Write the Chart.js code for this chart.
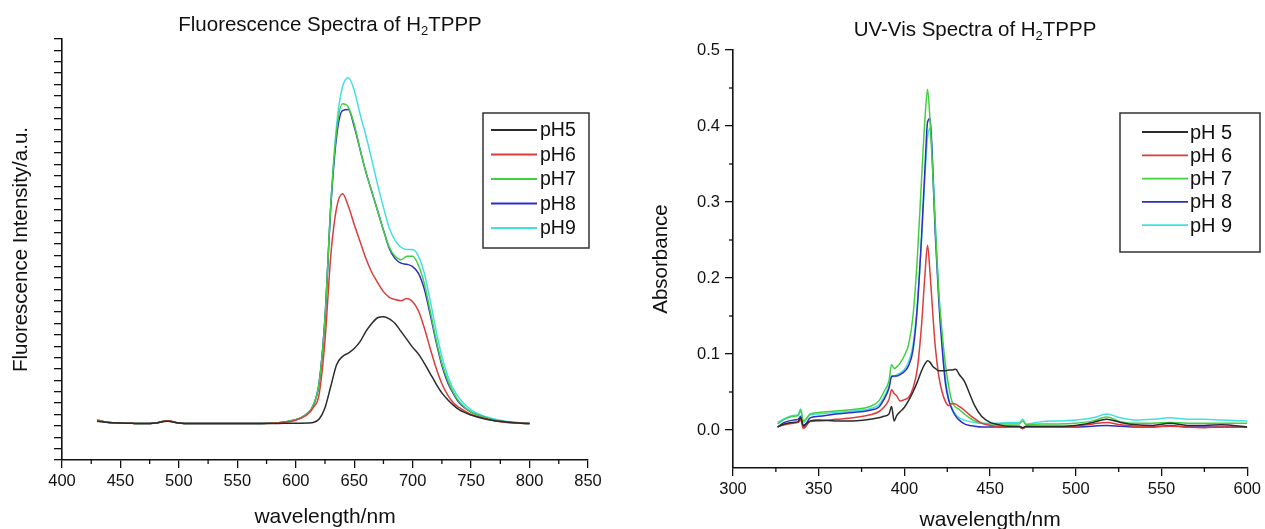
<!DOCTYPE html>
<html>
<head>
<meta charset="utf-8">
<script src="https://cdn.jsdelivr.net/npm/chart.js@4"></script>
<style>
  html, body { margin: 0; padding: 0; background: #fff; overflow: hidden; }
  .box { position: absolute; top: 0; height: 529px; }
</style>
</head>
<body>
<div class="box" style="left:0;width:620px"><canvas id="fluo"></canvas></div>
<div class="box" style="left:640px;width:625px"><canvas id="uv"></canvas></div>
<script>
// ---- fluorescence (left panel), intensity in arbitrary units ----
const fluoWavelength = [430, 440, 450, 460, 470, 480, 490, 500, 510, 520, 540, 560, 580, 590, 600, 605, 610, 615, 620, 625,
  630, 635, 640, 645, 650, 655, 660, 665, 670, 675, 680, 685, 690, 695, 700, 705, 710, 715, 720, 725,
  730, 735, 740, 750, 760, 770, 780, 790, 800];
const fluoPH5 = [3.4, 3.3, 3.25, 3.22, 3.2, 3.25, 3.4, 3.25, 3.2, 3.2, 3.2, 3.2, 3.2, 3.22, 3.22, 3.23, 3.25, 3.3, 3.6, 4.6,
  6.5, 8.4, 9.1, 9.4, 9.8, 10.4, 11.3, 12.0, 12.5, 12.6, 12.4, 12.0, 11.3, 10.6, 9.9, 9.3, 8.5, 7.6, 6.7, 5.9,
  5.3, 4.8, 4.4, 3.95, 3.65, 3.45, 3.35, 3.25, 3.2];
const fluoPH6 = [3.45, 3.3, 3.25, 3.22, 3.2, 3.25, 3.45, 3.25, 3.2, 3.2, 3.2, 3.2, 3.22, 3.3, 3.5, 3.7, 4.0, 4.6, 5.8, 10.5,
  18.0, 22.2, 23.4, 22.3, 20.7, 19.2, 17.7, 16.5, 15.6, 14.8, 14.3, 14.1, 14.0, 14.2, 13.9, 13.1, 11.6, 9.8, 8.1, 6.7,
  5.7, 5.0, 4.6, 4.0, 3.7, 3.45, 3.3, 3.25, 3.2];
const fluoPH7 = [3.5, 3.3, 3.25, 3.22, 3.2, 3.25, 3.45, 3.25, 3.2, 3.2, 3.2, 3.2, 3.25, 3.35, 3.55, 3.75, 4.1, 4.8, 6.8, 12.5,
  22.5, 29.0, 31.3, 31.0, 29.5, 27.3, 25.3, 23.6, 21.9, 20.2, 18.7, 17.9, 17.6, 17.9, 17.9, 17.1, 15.5, 13.1, 10.6, 8.5,
  7.0, 5.9, 5.1, 4.2, 3.8, 3.5, 3.35, 3.25, 3.2];
const fluoPH8 = [3.5, 3.3, 3.25, 3.22, 3.2, 3.25, 3.45, 3.25, 3.2, 3.2, 3.2, 3.2, 3.25, 3.35, 3.55, 3.75, 4.1, 4.8, 6.8, 12.5,
  22.3, 28.5, 30.7, 30.8, 29.3, 27.3, 25.3, 23.6, 21.9, 20.2, 18.6, 17.7, 17.3, 17.2, 17.0, 16.4, 15.0, 12.8, 10.4, 8.3,
  6.8, 5.8, 5.0, 4.2, 3.8, 3.5, 3.35, 3.25, 3.2];
const fluoPH9 = [3.55, 3.3, 3.25, 3.22, 3.2, 3.25, 3.45, 3.25, 3.2, 3.2, 3.2, 3.2, 3.25, 3.35, 3.55, 3.75, 4.1, 4.8, 6.8, 12.5,
  22.5, 29.5, 32.8, 33.6, 32.5, 30.4, 28.5, 26.4, 24.2, 22.2, 20.4, 19.3, 18.7, 18.5, 18.5, 17.9, 16.4, 14.0, 11.4, 9.1,
  7.4, 6.2, 5.4, 4.4, 3.9, 3.6, 3.4, 3.3, 3.2];
const fluoLabels = ['pH5', 'pH6', 'pH7', 'pH8', 'pH9'];
const fluoTicksX = [400, 450, 500, 550, 600, 650, 700, 750, 800, 850];
const fluoTicksY = Array.from({ length: 38 }, (_, i) => i); // unlabeled marks

// ---- UV-Vis (right panel), absorbance ----
const uvWavelength = [326, 330, 335, 338, 339.5, 341, 345, 350, 360, 370, 380, 385, 388, 391, 392.5, 394, 395.5, 397.5, 400, 402.5,
  405, 407.5, 410, 412, 413.5, 415, 416.5, 418, 420, 422, 424, 426, 428, 430, 432, 435, 438, 441, 445, 450,
  455, 460, 467, 469, 471, 480, 490, 500, 510, 518, 526, 535, 545, 555, 565, 575, 585, 600];
const uvPH5 = [0.004, 0.008, 0.010, 0.011, 0.016, 0.006, 0.012, 0.013, 0.012, 0.012, 0.014, 0.016, 0.018, 0.021, 0.031, 0.012, 0.019, 0.024, 0.030, 0.039,
  0.050, 0.063, 0.078, 0.087, 0.091, 0.089, 0.084, 0.081, 0.078, 0.078, 0.078, 0.079, 0.079, 0.080, 0.073, 0.064, 0.048, 0.032, 0.018, 0.010,
  0.007, 0.005, 0.005, 0.003, 0.005, 0.005, 0.005, 0.006, 0.010, 0.014, 0.010, 0.007, 0.006, 0.009, 0.006, 0.006, 0.007, 0.004];
const uvPH6 = [0.004, 0.007, 0.009, 0.010, 0.013, 0.002, 0.011, 0.012, 0.014, 0.016, 0.020, 0.024, 0.030, 0.040, 0.053, 0.048, 0.045, 0.038, 0.040, 0.043,
  0.055, 0.080, 0.138, 0.205, 0.243, 0.205, 0.155, 0.110, 0.072, 0.050, 0.037, 0.032, 0.035, 0.034, 0.031, 0.026, 0.020, 0.015, 0.009, 0.006,
  0.005, 0.005, 0.004, 0.002, 0.004, 0.004, 0.004, 0.005, 0.008, 0.010, 0.007, 0.005, 0.004, 0.005, 0.004, 0.003, 0.004, 0.004];
const uvPH7 = [0.008, 0.014, 0.018, 0.019, 0.026, 0.012, 0.021, 0.023, 0.025, 0.027, 0.031, 0.038, 0.050, 0.065, 0.086, 0.081, 0.083, 0.088, 0.098, 0.113,
  0.150, 0.225, 0.330, 0.410, 0.448, 0.405, 0.340, 0.268, 0.182, 0.128, 0.085, 0.055, 0.036, 0.030, 0.027, 0.021, 0.016, 0.012, 0.009, 0.008,
  0.008, 0.008, 0.008, 0.012, 0.007, 0.008, 0.008, 0.009, 0.012, 0.017, 0.011, 0.009, 0.009, 0.010, 0.009, 0.009, 0.009, 0.009];
const uvPH8 = [0.004, 0.010, 0.013, 0.014, 0.018, 0.004, 0.016, 0.018, 0.021, 0.023, 0.026, 0.030, 0.040, 0.055, 0.070, 0.071, 0.071, 0.073, 0.077, 0.085,
  0.105, 0.160, 0.255, 0.345, 0.405, 0.410, 0.345, 0.258, 0.172, 0.108, 0.060, 0.038, 0.026, 0.018, 0.013, 0.008, 0.006, 0.005, 0.004, 0.004,
  0.004, 0.004, 0.004, 0.002, 0.004, 0.004, 0.004, 0.004, 0.005, 0.006, 0.005, 0.004, 0.004, 0.006, 0.004, 0.004, 0.004, 0.004];
const uvPH9 = [0.010, 0.015, 0.019, 0.020, 0.028, 0.010, 0.020, 0.021, 0.023, 0.025, 0.028, 0.033, 0.043, 0.058, 0.072, 0.070, 0.073, 0.075, 0.080, 0.090,
  0.112, 0.165, 0.250, 0.335, 0.385, 0.397, 0.350, 0.272, 0.185, 0.118, 0.068, 0.040, 0.028, 0.020, 0.016, 0.013, 0.011, 0.010, 0.009, 0.009,
  0.009, 0.010, 0.010, 0.014, 0.008, 0.011, 0.012, 0.013, 0.016, 0.021, 0.016, 0.013, 0.014, 0.016, 0.014, 0.014, 0.013, 0.012];
const uvLabels = ['pH 5', 'pH 6', 'pH 7', 'pH 8', 'pH 9'];
const uvTicksX = [300, 350, 400, 450, 500, 550, 600];
const uvTicksY = [0.0, 0.1, 0.2, 0.3, 0.4, 0.5];

const seriesColors = ['#2b2b2b', '#dc3c3c', '#42d042', '#2e2ec6', '#44e0e0'];
const FONT = '"Liberation Sans", Arial, sans-serif';
const INK = '#111';

// midpoints between major ticks, used for the short minor marks
const between = arr => arr.slice(1).map((v, i) => (v + arr[i]) / 2);

// title with a subscript "2" in H2TPPP
const subTitle = {
  id: 'subTitle',
  afterDraw(chart, args, o) {
    const ctx = chart.ctx;
    ctx.save();
    ctx.fillStyle = INK;
    ctx.textBaseline = 'middle';
    ctx.textAlign = 'left';
    const big = o.size + 'px ' + FONT;
    const small = o.subSize + 'px ' + FONT;
    ctx.font = big;
    const w1 = ctx.measureText(o.before).width;
    const w3 = ctx.measureText(o.after).width;
    ctx.font = small;
    const w2 = ctx.measureText(o.sub).width;
    let x = o.x - (w1 + w2 + w3) / 2;
    ctx.font = big; ctx.fillText(o.before, x, o.y); x += w1;
    ctx.font = small; ctx.fillText(o.sub, x, o.y + o.subShift); x += w2;
    ctx.font = big; ctx.fillText(o.after, x, o.y);
    ctx.restore();
  }
};

const minorTicks = {
  id: 'minorTicks',
  afterDraw(chart, args, o) {
    const ctx = chart.ctx;
    ctx.save();
    ctx.strokeStyle = INK;
    ctx.lineWidth = 1.3;
    (o.axes || []).forEach(a => {
      const s = chart.scales[a.id];
      a.values.forEach(v => {
        const p = s.getPixelForValue(v);
        ctx.beginPath();
        if (s.isHorizontal()) { ctx.moveTo(p, s.top); ctx.lineTo(p, s.top + a.len); }
        else { ctx.moveTo(s.right, p); ctx.lineTo(s.right - a.len, p); }
        ctx.stroke();
      });
    });
    ctx.restore();
  }
};

// framed legend inside the plot, Origin style
const boxLegend = {
  id: 'boxLegend',
  afterDraw(chart, args, o) {
    const ctx = chart.ctx;
    ctx.save();
    ctx.strokeStyle = '#333';
    ctx.lineWidth = 1.5;
    ctx.strokeRect(o.left, o.top, o.width, o.height);
    ctx.font = o.size + 'px ' + FONT;
    ctx.textBaseline = 'middle';
    ctx.textAlign = 'left';
    chart.data.datasets.forEach((ds, i) => {
      const y = o.firstRow + i * o.rowGap;
      ctx.strokeStyle = ds.borderColor;
      ctx.lineWidth = 1.8;
      ctx.beginPath(); ctx.moveTo(o.lineStart, y); ctx.lineTo(o.lineEnd, y); ctx.stroke();
      ctx.fillStyle = INK;
      ctx.fillText(ds.label, o.textX, y + 1);
    });
    ctx.restore();
  }
};

function makeDatasets(xs, series, labels) {
  return series.map((ys, i) => ({
    label: labels[i],
    data: xs.map((x, j) => ({ x: x, y: ys[j] })),
    borderColor: seriesColors[i],
    borderWidth: 1.5,
    pointRadius: 0,
    cubicInterpolationMode: 'monotone',
    fill: false
  }));
}

function axisStyle(tickLen) {
  return {
    grid: { display: true, drawOnChartArea: false, drawTicks: true, tickLength: tickLen, color: INK, lineWidth: 1.3 },
    border: { display: true, color: INK, width: 1.6 }
  };
}

const fluo = new Chart(document.getElementById('fluo').getContext('2d'), {
  type: 'line',
  data: { datasets: makeDatasets(fluoWavelength, [fluoPH5, fluoPH6, fluoPH7, fluoPH8, fluoPH9], fluoLabels) },
  options: {
    responsive: true,
    maintainAspectRatio: false,
    animation: false,
    layout: { padding: { left: 0, top: 39, right: 32, bottom: 0 } },
    plugins: {
      legend: { display: false },
      tooltip: { enabled: false },
      subTitle: { x: 330, y: 25, size: 20.5, subSize: 13, subShift: 6, before: 'Fluorescence Spectra of H', sub: '2', after: 'TPPP' },
      minorTicks: { axes: [{ id: 'x', values: between(fluoTicksX), len: 4 }] },
      boxLegend: { left: 483, top: 113, width: 106, height: 135, lineStart: 491, lineEnd: 537, textX: 540, firstRow: 130, rowGap: 24.5, size: 19.5 }
    },
    scales: {
      x: {
        type: 'linear', min: 400, max: 850,
        ...axisStyle(8),
        afterBuildTicks: s => { s.ticks = fluoTicksX.map(v => ({ value: v })); },
        afterFit: s => { s.height = 69; },
        ticks: { autoSkip: false, maxRotation: 0, padding: 4, color: INK, font: { family: FONT, size: 16.5 } },
        title: { display: true, text: 'wavelength/nm', color: INK, font: { family: FONT, size: 21 }, padding: { top: 0, bottom: -1 } }
      },
      y: {
        type: 'linear', min: 0, max: 37,
        ...axisStyle(8),
        afterBuildTicks: s => { s.ticks = fluoTicksY.map(v => ({ value: v })); },
        afterFit: s => { s.width = 62; },
        ticks: { display: false },
        title: { display: true, text: 'Fluorescence Intensity/a.u.', color: INK, font: { family: FONT, size: 20.5 }, padding: { top: 9, bottom: 0 } }
      }
    }
  },
  plugins: [subTitle, minorTicks, boxLegend]
});

const uv = new Chart(document.getElementById('uv').getContext('2d'), {
  type: 'line',
  data: { datasets: makeDatasets(uvWavelength, [uvPH5, uvPH6, uvPH7, uvPH8, uvPH9], uvLabels) },
  options: {
    responsive: true,
    maintainAspectRatio: false,
    animation: false,
    layout: { padding: { left: 0, top: 50, right: 14, bottom: 0 } },
    plugins: {
      legend: { display: false },
      tooltip: { enabled: false },
      subTitle: { x: 335, y: 30, size: 20.5, subSize: 13, subShift: 6, before: 'UV-Vis Spectra of H', sub: '2', after: 'TPPP' },
      minorTicks: { axes: [
        { id: 'x', values: between(uvTicksX), len: 4 },
        { id: 'y', values: between(uvTicksY), len: 4 }
      ] },
      boxLegend: { left: 480, top: 113, width: 140, height: 139, lineStart: 502, lineEnd: 548, textX: 550, firstRow: 132, rowGap: 23.3, size: 20 }
    },
    scales: {
      x: {
        type: 'linear', min: 300, max: 600,
        ...axisStyle(8),
        afterBuildTicks: s => { s.ticks = uvTicksX.map(v => ({ value: v })); },
        afterFit: s => { s.height = 61; },
        ticks: { autoSkip: false, maxRotation: 0, padding: 4, color: INK, font: { family: FONT, size: 16.5 } },
        title: { display: true, text: 'wavelength/nm', color: INK, font: { family: FONT, size: 21 }, padding: { top: 0, bottom: -4 } }
      },
      y: {
        type: 'linear', min: -0.05, max: 0.5,
        ...axisStyle(8),
        afterBuildTicks: s => { s.ticks = uvTicksY.map(v => ({ value: v })); },
        afterFit: s => { s.width = 93; },
        ticks: { padding: 5, color: INK, font: { family: FONT, size: 16.5 }, callback: v => Number(v).toFixed(1) },
        title: { display: true, text: 'Absorbance', color: INK, font: { family: FONT, size: 20.5 }, padding: { top: 9, bottom: 0 } }
      }
    }
  },
  plugins: [subTitle, minorTicks, boxLegend]
});
</script>
</body>
</html>
